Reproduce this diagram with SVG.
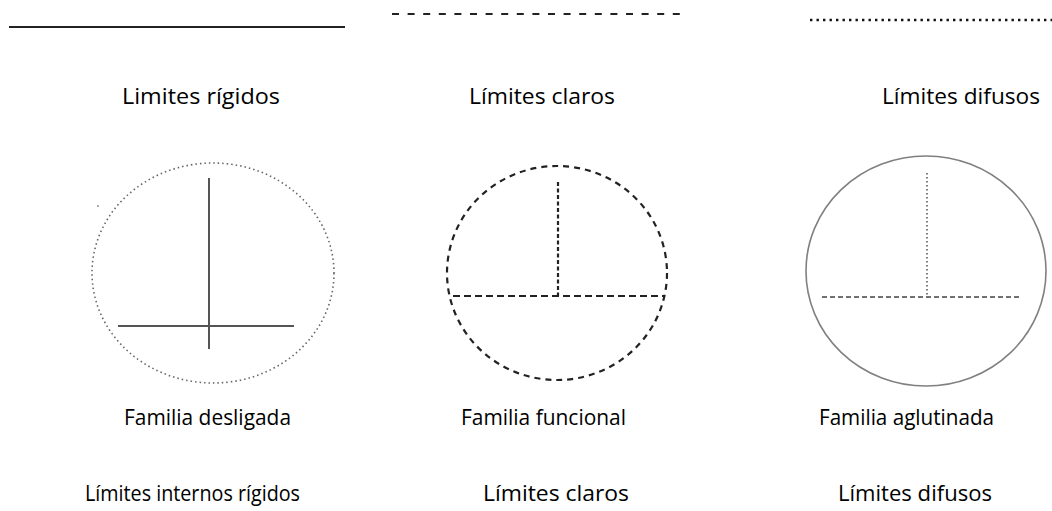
<svg xmlns="http://www.w3.org/2000/svg" width="1052" height="511" viewBox="0 0 1052 511">
<style>
text{font-family:"Open Sans","Liberation Sans",sans-serif;font-size:21px;fill:#000;}
.c1{fill:none;stroke:#666;stroke-width:1.6;stroke-dasharray:1.5 3;}
.c2{fill:none;stroke:#222;stroke-width:2.2;stroke-dasharray:6 5;}
.c3{fill:none;stroke:#808080;stroke-width:1.6;}
</style>
<rect width="1052" height="511" fill="#fff"/>
<g id="legend">
<line x1="9" y1="27" x2="345" y2="27" stroke="#222" stroke-width="2"/>
<line x1="392" y1="14" x2="680" y2="14" stroke="#222" stroke-width="2" stroke-dasharray="7 8.6"/>
<line x1="810" y1="20" x2="1052" y2="20" stroke="#111" stroke-width="2.4" stroke-dasharray="2.4 4.1"/>
</g>
<g id="desligada">
<text x="122" y="104" textLength="158" lengthAdjust="spacingAndGlyphs">Limites rígidos</text>
<ellipse class="c1" cx="213" cy="273" rx="121" ry="110"/>
<circle cx="98" cy="206" r="0.9" fill="#888"/>
<line x1="209" y1="178" x2="209" y2="349" stroke="#555" stroke-width="2"/>
<line x1="118" y1="326" x2="294" y2="326" stroke="#555" stroke-width="2"/>
<text x="124" y="425" textLength="167" lengthAdjust="spacingAndGlyphs">Familia desligada</text>
<text x="85" y="501" textLength="215" lengthAdjust="spacingAndGlyphs">Límites internos rígidos</text>
</g>
<g id="funcional">
<text x="469" y="104" textLength="146" lengthAdjust="spacingAndGlyphs">Límites claros</text>
<ellipse class="c2" cx="557" cy="273" rx="110" ry="107"/>
<line x1="558" y1="182" x2="558" y2="296" stroke="#222" stroke-width="2.2" stroke-dasharray="4 2.5"/>
<line x1="453" y1="296" x2="664" y2="296" stroke="#222" stroke-width="2.2" stroke-dasharray="7 4"/>
<text x="461" y="425" textLength="165" lengthAdjust="spacingAndGlyphs">Familia funcional</text>
<text x="483" y="501" textLength="146" lengthAdjust="spacingAndGlyphs">Límites claros</text>
</g>
<g id="aglutinada">
<text x="882" y="104" textLength="158" lengthAdjust="spacingAndGlyphs">Límites difusos</text>
<ellipse class="c3" cx="926" cy="271" rx="120" ry="115"/>
<line x1="927" y1="173" x2="927" y2="296" stroke="#444" stroke-width="1.4" stroke-dasharray="1.5 2.5"/>
<line x1="822" y1="297" x2="1020" y2="297" stroke="#444" stroke-width="1.4" stroke-dasharray="5 3"/>
<text x="819" y="425" textLength="175" lengthAdjust="spacingAndGlyphs">Familia aglutinada</text>
<text x="838" y="501" textLength="154" lengthAdjust="spacingAndGlyphs">Límites difusos</text>
</g>
<g id="connectors"/>
</svg>
